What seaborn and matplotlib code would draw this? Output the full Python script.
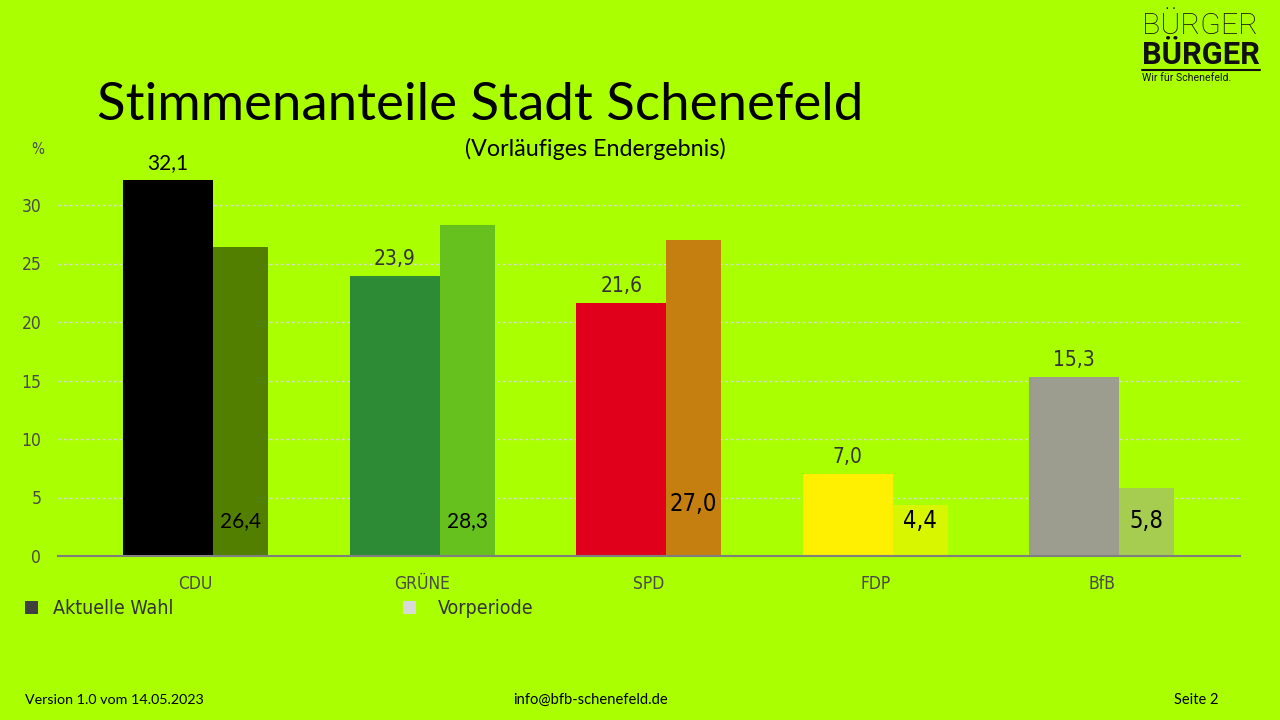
import numpy as np
import pandas as pd
import matplotlib
matplotlib.use("Agg")
import matplotlib.pyplot as plt
from matplotlib.patches import Rectangle
from matplotlib.lines import Line2D
from matplotlib import font_manager as fm
import seaborn as sns

# ---------------- data ----------------
parties = ["CDU", "GRÜNE", "SPD", "FDP", "BfB"]
current = [32.1, 23.9, 21.6, 7.0, 15.3]
previous = [26.4, 28.3, 27.0, 4.4, 5.8]
current_labels = ["32,1", "23,9", "21,6", "7,0", "15,3"]
previous_labels = ["26,4", "28,3", "27,0", "4,4", "5,8"]
current_colors = ["#000000", "#2e8b35", "#e0001b", "#ffef00", "#9c9c8f"]
previous_colors = ["#537f00", "#66c01e", "#c57f10", "#d8f600", "#a6cc50"]
yticks = [0, 5, 10, 15, 20, 25, 30]
legend_labels = ["Aktuelle Wahl", "Vorperiode"]
legend_colors = ["#404040", "#d9d9d9"]
title = "Stimmenanteile Stadt Schenefeld"
subtitle = "(Vorläufiges Endergebnis)"
footer_left = "Version 1.0 vom 14.05.2023"
footer_mid = "info@bfb-schenefeld.de"
footer_right = "Seite 2"

BG = "#aaff00"
CAL = ["Lato", "DejaVu Sans"]


def narrow_props(size):
    # pick a condensed sans if available
    for fam in ["Liberation Sans Narrow", "Arial Narrow"]:
        try:
            path = fm.findfont(fm.FontProperties(family=fam), fallback_to_default=False)
            return fm.FontProperties(fname=path, size=size)
        except Exception:
            pass
    try:
        path = fm.findfont(fm.FontProperties(family="DejaVu Sans", stretch="condensed"))
        if "ondensed" in path:
            return fm.FontProperties(fname=path, size=size)
    except Exception:
        pass
    return fm.FontProperties(family="DejaVu Sans", size=size)


sns.set_theme(style="white")
plt.rcParams["font.family"] = ["DejaVu Sans"]

W, H = 1280, 720
fig = plt.figure(figsize=(12.8, 7.2), dpi=100, facecolor=BG)
px = 11.7  # pixels per percent unit
ax = fig.add_axes([58 / W, (H - 556) / H, 1182 / W, 34 * px / H])
ax.set_facecolor(BG)

pos = np.arange(len(parties))
cur_off, cur_w = -0.1215, 0.397
prev_off, prev_w = 0.1985, 0.243

df_cur = pd.DataFrame({"x": pos + cur_off, "y": current, "party": parties})
df_prev = pd.DataFrame({"x": pos + prev_off, "y": previous, "party": parties})

sns.barplot(data=df_cur, x="x", y="y", hue="party", hue_order=parties,
            palette=current_colors, native_scale=True, width=cur_w,
            dodge=False, errorbar=None, legend=False, saturation=1,
            linewidth=0, ax=ax)
sns.barplot(data=df_prev, x="x", y="y", hue="party", hue_order=parties,
            palette=previous_colors, native_scale=True, width=prev_w,
            dodge=False, errorbar=None, legend=False, saturation=1,
            linewidth=0, ax=ax)

ax.set_xlim(-0.607, 4.61)
ax.set_ylim(0, 34)
ax.set_xticks(pos)
ax.set_xticklabels(parties, fontproperties=narrow_props(12.5), color="#4a4a4a")
ax.set_yticks(yticks)
ax.set_yticklabels([str(v) for v in yticks], fontproperties=narrow_props(12.5), color="#4a4a4a")
ax.tick_params(axis="both", length=0)
ax.tick_params(axis="x", pad=14)
ax.tick_params(axis="y", pad=12)
ax.set_xlabel("")
ax.set_ylabel("")
for sp in ["top", "right", "left"]:
    ax.spines[sp].set_visible(False)
ax.spines["bottom"].set_color("#7f7f7f")
ax.spines["bottom"].set_linewidth(1.5)
ax.yaxis.grid(True, color="#d9d9d9", linestyle=(0, (2, 2)), linewidth=1)
ax.set_axisbelow(True)

# value labels
for i in range(len(parties)):
    if i == 0:
        ax.text(pos[i] + cur_off, current[i] + 1.45, current_labels[i],
                ha="center", va="center", fontsize=15, color="black", family=CAL)
    else:
        ax.text(pos[i] + cur_off, current[i] + 1.45, current_labels[i],
                ha="center", va="center", color="#333333",
                fontproperties=narrow_props(15))
    y_prev = 4.45 if i == 2 else 3.0
    if i < 2:
        ax.text(pos[i] + prev_off, y_prev, previous_labels[i],
                ha="center", va="center", fontsize=15, color="black", family=CAL)
    else:
        ax.text(pos[i] + prev_off, y_prev, previous_labels[i],
                ha="center", va="center", color="black",
                fontproperties=narrow_props(17))

# % label
fig.text(38 / W, 1 - 150 / H, "%", ha="center", va="center",
         color="#4a4a4a", fontproperties=narrow_props(11))

renderer = fig.canvas.get_renderer()


def fit(t, width_px):
    bb = t.get_window_extent(renderer)
    t.set_fontsize(t.get_fontsize() * width_px / bb.width)


t = fig.text(97 / W, 1 - 106 / H, title, ha="left", va="center",
             fontsize=40, color="black", family=CAL)
fit(t, 765)
t = fig.text(595 / W, 1 - 149 / H, subtitle, ha="center", va="center",
             fontsize=15, color="black", family=CAL)
fit(t, 260)

# legend
for (x0, tx, lab, col) in [(25, 53, legend_labels[0], legend_colors[0]),
                           (403, 438, legend_labels[1], legend_colors[1])]:
    fig.add_artist(Rectangle((x0 / W, 1 - 614 / H), 13 / W, 13 / H,
                             transform=fig.transFigure, color=col, lw=0))
    fig.text(tx / W, 1 - 608 / H, lab, ha="left", va="center",
             color="#333333", fontproperties=narrow_props(14))

# footer
t = fig.text(25 / W, 1 - 700 / H, footer_left, ha="left", va="center",
             fontsize=11, color="black", family=CAL)
fit(t, 179)
t = fig.text(591 / W, 1 - 700 / H, footer_mid, ha="center", va="center",
             fontsize=11, color="black", family=CAL)
fit(t, 155)
t = fig.text(1218 / W, 1 - 700 / H, footer_right, ha="right", va="center",
             fontsize=11, color="black", family=CAL)
fit(t, 44)

# logo
t = fig.text(1142 / W, 1 - 26 / H, "BÜRGER", ha="left", va="center",
             fontsize=20, color="#111111", family=["Roboto", "DejaVu Sans"],
             weight="light")
fit(t, 116)
t = fig.text(1142 / W, 1 - 55 / H, "BÜRGER", ha="left", va="center",
             fontsize=20, color="#111111", family=["Roboto", "DejaVu Sans"],
             weight="bold")
fit(t, 118)
fig.add_artist(Line2D([1142 / W, 1260 / W], [1 - 70 / H, 1 - 70 / H],
                      transform=fig.transFigure, color="#111111", lw=1.5))
t = fig.text(1142 / W, 1 - 78 / H, "Wir für Schenefeld.", ha="left", va="center",
             fontsize=7, color="#111111", family=["Roboto", "DejaVu Sans"])
fit(t, 89)

fig.savefig("out.png", dpi=100, facecolor=BG)
